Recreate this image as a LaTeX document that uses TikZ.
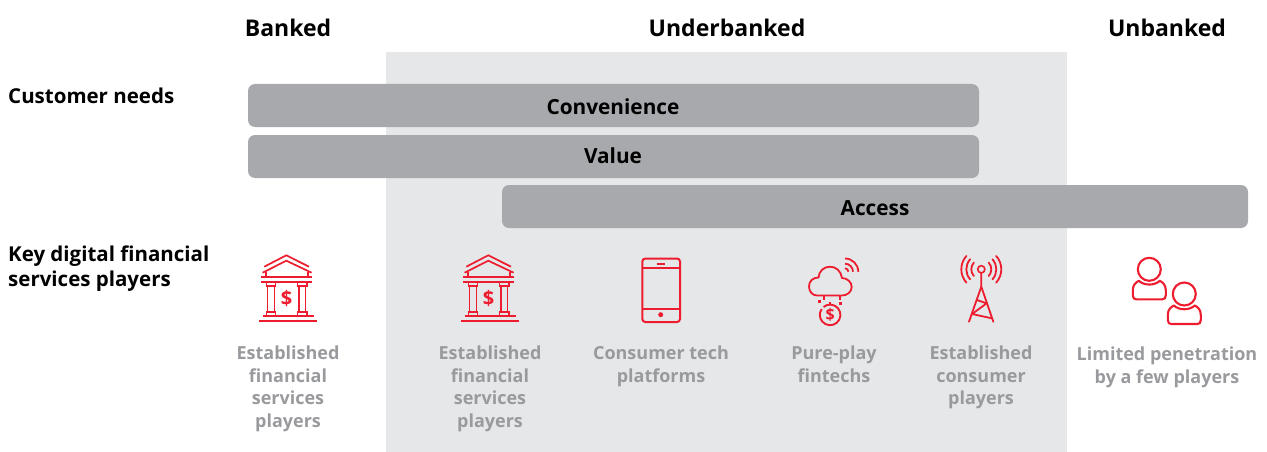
\documentclass[tikz,border=0pt]{standalone}
\usepackage{fontspec}
\setmainfont{Open Sans}
\definecolor{bandgrey}{HTML}{E6E7E8}
\definecolor{barfill}{HTML}{A7A9AC}
\definecolor{iconred}{HTML}{ED1C2E}
\definecolor{capgrey}{HTML}{999A9D}
\definecolor{inkblack}{HTML}{000000}
\tikzset{
  headlabel/.style={anchor=base,font=\fontsize{23}{26}\selectfont\bfseries,text=inkblack,inner sep=0},
  sidelabel/.style={anchor=base west,font=\fontsize{20.5}{25}\selectfont\bfseries,text=inkblack,inner sep=0,align=left},
  needbar/.style={fill=barfill,rounded corners=7pt,draw=none},
  barlabel/.style={anchor=base,font=\fontsize{20.8}{24}\selectfont\bfseries,text=inkblack,inner sep=0},
  caption/.style={anchor=base,font=\fontsize{18}{22.5}\selectfont\bfseries,text=capgrey,inner sep=0,align=center},
  iconline/.style={draw=iconred,line width=1.7pt,line cap=butt,line join=miter},
  iconround/.style={draw=iconred,line width=1.8pt,line cap=round,line join=round},
  bankpic/.pic={
    \draw[iconline] (-22,11.4)--(0,0)--(22.7,11.4);
    \draw[iconline] (-23.7,17.4)--(0,5.4)--(25.3,17.4);
    \draw[iconline] (-20.3,17)--(-20.3,22) (22,17)--(22,22);
    \draw[iconline] (-25.3,22)--(26,22) (-25.3,26.7)--(26,26.7);
    \foreach \cx in {-15.3,16}{
      \draw[iconline,line width=1.3pt] (\cx-4.8,27)rectangle(\cx+4.8,30.7);
      \draw[iconline,line width=1.3pt] (\cx-3.2,30.7)--(\cx-3.2,56.7) (\cx+3.2,30.7)--(\cx+3.2,56.7);
      \draw[iconline,line width=1.3pt] (\cx-4.8,56.7)rectangle(\cx+4.8,61);
    }
    \draw[iconline] (-23.7,61)--(27.3,61);
    \draw[iconline] (-27,65.4)--(31,65.4);
    \node[text=iconred,font=\fontsize{20}{20}\selectfont\bfseries,inner sep=0] (dollar) at (0.3,43.5) {\$};
  },
  personpic/.pic={
    \draw[iconround,line width=2.1pt] (0,0) circle[radius=11.5pt];
    \draw[iconround,line width=2.1pt] (-10.5,11.5) .. controls (-5,16.5) and (5,16.5) .. (10.5,11.5)
      .. controls (13,13) and (16.5,15) .. (16.5,21) -- (16.5,26) .. controls (16.5,29) and (15,30) .. (13,30)
      -- (-13,30) .. controls (-15,30) and (-16.5,29) .. (-16.5,26) -- (-16.5,21) .. controls (-16.5,15) and (-13,13) .. (-10.5,11.5) -- cycle;
  }
}
\begin{document}
\begin{tikzpicture}[x=1pt,y=-1pt]
\useasboundingbox (0,0) rectangle (1267,452);
\fill[bandgrey] (386,52) rectangle (1067,452);
% headers
\node[headlabel] (banked) at (288,37) {Banked};
\node[headlabel] (underbanked) at (727,37) {Underbanked};
\node[headlabel] (unbanked) at (1167,37) {Unbanked};
\node[sidelabel] (needs) at (8,103) {Customer needs};
\node[sidelabel] (players1) at (8,261) {Key digital financial};
\node[sidelabel] (players2) at (8,286) {services players};
% bars
\path[needbar] (248,84) rectangle (979,127);
\path[needbar] (248,135) rectangle (979,178);
\path[needbar] (502,185) rectangle (1248,228);
\node[barlabel] (convenience) at (613,114) {Convenience};
\node[barlabel] (value) at (613,163) {Value};
\node[barlabel] (access) at (875,215) {Access};
% bank icons
\pic at (286.3,255.3) {bankpic};
\pic at (488.3,255.3) {bankpic};
% phone
\draw[iconline,line width=2pt,rounded corners=3pt] (642.3,258.5) rectangle (680,322);
\draw[iconline,line width=1.8pt] (642.3,268.3)--(680,268.3) (642.3,309)--(680,309);
\draw[iconline,line width=2.4pt] (656.7,264)--(665,264);
\fill[iconred] (660.7,314.7) circle[radius=2.5pt];
% cloud
\draw[iconround] (817,295.5) .. controls (812,295.5) and (809,291) .. (809,286.5)
  .. controls (809,281) and (813,277.5) .. (818.5,277.5)
  .. controls (819,271) and (824,266.7) .. (830,266.7)
  .. controls (836,266.7) and (841,271) .. (842,278)
  .. controls (847,278) and (851.7,282) .. (851.7,287)
  .. controls (851.7,292) and (847,295.5) .. (842,295.5) -- cycle;
\draw[iconline,line width=1.8pt] (845,258.5) arc[start angle=90,end angle=0,radius=13.3pt];
\draw[iconline,line width=1.8pt] (845,263.7) arc[start angle=90,end angle=0,radius=8pt];
\draw[iconline,line width=1.8pt] (845,268.3) arc[start angle=90,end angle=0,radius=3.4pt];
\draw[iconline] (824,296)--(824,299.5) (840,296)--(840,299.5) (830.3,301.5)--(830.3,303.5);
\fill[iconred] (818,300) rectangle (821,303);
\fill[iconred] (839,302) rectangle (842,305);
\draw[iconline,line width=1.9pt] (823.5,307) arc[start angle=130,end angle=-215,radius=10.3pt];
\node[text=iconred,font=\fontsize{16}{16}\selectfont\bfseries,inner sep=0] (coin) at (830.3,315) {\$};
% tower
\draw[iconround,line width=1.6pt] (981.3,269.3) circle[radius=3.6pt];
\draw[iconround] (981.3,273)--(981.3,286.7)--(969,321.7);
\draw[iconround] (981.3,286.7)--(993.3,321.7);
\draw[iconround] (976.7,300)--(986.7,303.3)--(972,314)--(991.7,318.3);
\foreach \r in {10,15,20}{
  \draw[iconround] (981.3,269.3) ++(42:\r pt) arc[start angle=42,end angle=-42,radius=\r pt];
  \draw[iconround] (981.3,269.3) ++(138:\r pt) arc[start angle=138,end angle=222,radius=\r pt];
}
% people
\pic at (1149.3,269.3) {personpic};
\pic at (1184.3,294) {personpic};
% captions
\node[caption,anchor=north] (cap1) at (288,346) {Established\\financial\\services\\players};
\node[caption,anchor=north] (cap2) at (490,346) {Established\\financial\\services\\players};
\node[caption,anchor=north] (cap3) at (661,346) {Consumer tech\\platforms};
\node[caption,anchor=north] (cap4) at (834,346) {Pure-play\\fintechs};
\node[caption,anchor=north] (cap5) at (981,346) {Established\\consumer\\players};
\node[caption,anchor=north] (cap6) at (1167,347) {Limited penetration\\by a few players};
\end{tikzpicture}
\end{document}
